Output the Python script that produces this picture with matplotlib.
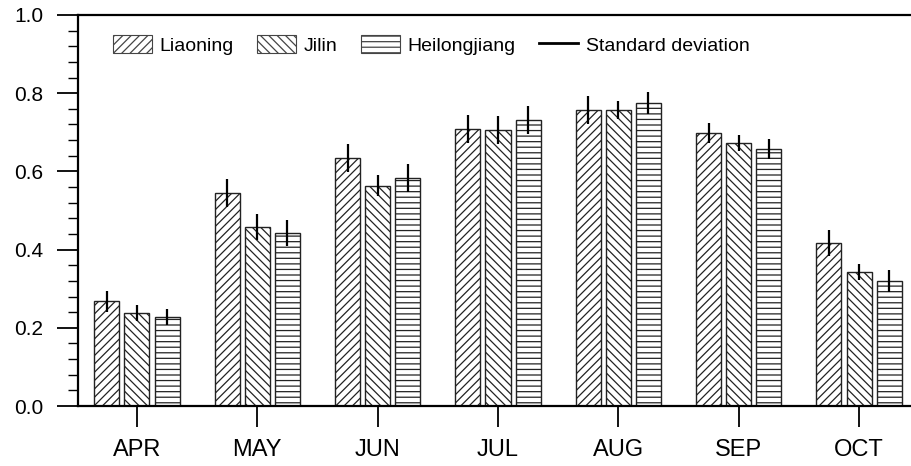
import matplotlib
matplotlib.use("Agg")
import matplotlib.pyplot as plt
import numpy as np
from matplotlib.lines import Line2D
from matplotlib.patches import Patch

months = ["APR", "MAY", "JUN", "JUL", "AUG", "SEP", "OCT"]
provinces = ["Liaoning", "Jilin", "Heilongjiang"]

liaoning = [0.268, 0.545, 0.634, 0.708, 0.757, 0.698, 0.417]
jilin = [0.238, 0.458, 0.563, 0.706, 0.757, 0.672, 0.343]
heilongjiang = [0.228, 0.442, 0.583, 0.731, 0.775, 0.657, 0.320]

liaoning_sd = [0.027, 0.036, 0.036, 0.036, 0.035, 0.026, 0.033]
jilin_sd = [0.020, 0.033, 0.027, 0.036, 0.023, 0.020, 0.020]
heilongjiang_sd = [0.021, 0.034, 0.036, 0.036, 0.028, 0.026, 0.029]

hatches = ["////", "\\\\\\\\", "---"]

plt.rcParams["font.family"] = ["Liberation Sans", "DejaVu Sans"]
plt.rcParams["hatch.linewidth"] = 0.9
plt.rcParams["hatch.color"] = "#2a2a2a"

fig = plt.figure(figsize=(9.12, 4.66), dpi=100)
ax = fig.add_axes([78 / 912, 1 - 406 / 466, 1 - 78 / 912, (406 - 15) / 466])

x = np.arange(len(months))
offset = 0.25
width = 0.208
series = [liaoning, jilin, heilongjiang]
sds = [liaoning_sd, jilin_sd, heilongjiang_sd]
for i in range(3):
    xs = x + (i - 1) * offset
    ax.bar(xs, series[i], width, facecolor="white", edgecolor="#222222",
           linewidth=1.0, hatch=hatches[i], zorder=2)
    ax.errorbar(xs, series[i], yerr=sds[i], fmt="none", ecolor="black",
                elinewidth=1.6, capsize=0, zorder=3)

ax.set_xlim(-0.49, 6.44)
ax.set_ylim(0, 1.0)
ax.set_xticks(x)
ax.set_xticklabels(months, fontsize=17)
ax.set_yticks(np.arange(0, 1.01, 0.2))
ax.set_yticklabels(["%.1f" % v for v in np.arange(0, 1.01, 0.2)], fontsize=15)
ax.set_yticks(np.arange(0, 1.001, 0.04), minor=True)
ax.tick_params(axis="y", which="major", direction="out", length=15, width=1.3, pad=10)
ax.tick_params(axis="y", which="minor", direction="out", length=7.5, width=1.0)
ax.tick_params(axis="x", which="major", direction="out", length=15, width=1.3, pad=9)
for s in ["left", "bottom", "top"]:
    ax.spines[s].set_linewidth(1.6)
ax.spines["right"].set_visible(False)

handles = [Patch(facecolor="white", edgecolor="#444444", hatch=hatches[i], linewidth=0.8)
           for i in range(3)]
handles.append(Line2D([0], [0], color="black", linewidth=2))
labels = provinces + ["Standard deviation"]
fig.legend(handles, labels, loc="center left", ncol=4, frameon=False,
           bbox_to_anchor=(113 / 912, 1 - 45 / 466), bbox_transform=fig.transFigure,
           borderpad=0, borderaxespad=0, fontsize=14, handlelength=2.0,
           handleheight=1.0, handletextpad=0.4, columnspacing=1.2)

fig.savefig("out.png", dpi=100)
